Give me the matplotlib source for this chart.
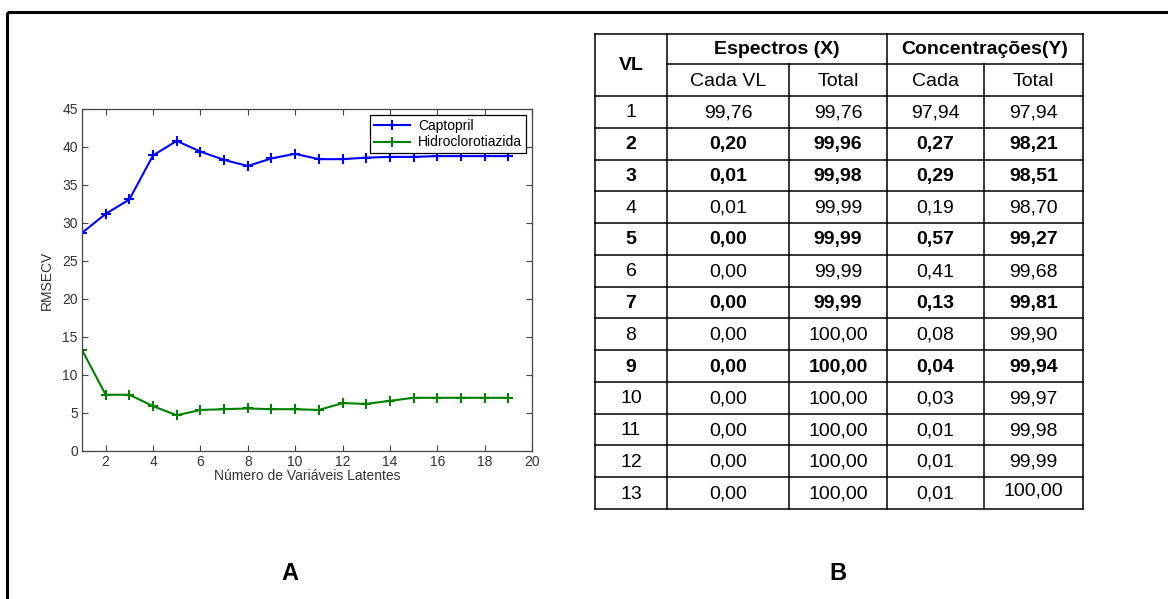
import numpy as np
import matplotlib
matplotlib.use("Agg")
import matplotlib.pyplot as plt

plt.rcParams['font.family'] = ['Liberation Sans', 'DejaVu Sans']

# RMSECV data (panel A)
n_vl = list(range(1, 20))
captopril = [28.7, 31.2, 33.1, 38.9, 40.8, 39.4, 38.3, 37.5, 38.5, 39.1,
             38.4, 38.4, 38.6, 38.7, 38.7, 38.8, 38.8, 38.8, 38.8]
hidro = [13.3, 7.4, 7.4, 5.9, 4.7, 5.4, 5.5, 5.6, 5.5, 5.5,
         5.4, 6.3, 6.2, 6.6, 7.0, 7.0, 7.0, 7.0, 7.0]

# variance table (panel B)
vl = [str(i) for i in range(1, 14)]
cada_x = ["99,76", "0,20", "0,01", "0,01", "0,00", "0,00", "0,00", "0,00",
          "0,00", "0,00", "0,00", "0,00", "0,00"]
total_x = ["99,76", "99,96", "99,98", "99,99", "99,99", "99,99", "99,99",
           "100,00", "100,00", "100,00", "100,00", "100,00", "100,00"]
cada_y = ["97,94", "0,27", "0,29", "0,19", "0,57", "0,41", "0,13", "0,08",
          "0,04", "0,03", "0,01", "0,01", "0,01"]
total_y = ["97,94", "98,21", "98,51", "98,70", "99,27", "99,68", "99,81",
           "99,90", "99,94", "99,97", "99,98", "99,99", "100,00"]
bold_rows = [2, 3, 5, 7, 9]

W, H = 1168, 599
fig = plt.figure(figsize=(W / 100, H / 100), dpi=100)
fig.patch.set_facecolor('white')

# ---- panel A: line plot
ax = fig.add_axes([82 / W, 1 - 451 / H, 450 / W, 342 / H])
ax.plot(n_vl, captopril, color='#0000ff', marker='+', ms=7, mew=1.5, lw=1.5,
        label='Captopril')
ax.plot(n_vl, hidro, color='#008000', marker='+', ms=7, mew=1.5, lw=1.5,
        label='Hidroclorotiazida')
ax.set_xlim(1, 20)
ax.set_ylim(0, 45)
ax.set_xticks(range(2, 21, 2))
ax.set_yticks(range(0, 46, 5))
ax.tick_params(direction='in', top=True, right=True, labelsize=10,
               labelcolor='#333333', length=4, width=0.8, color='#444444',
               pad=3)
for s in ax.spines.values():
    s.set_color('#444444')
    s.set_linewidth(0.9)
ax.set_xlabel('Número de Variáveis Latentes', fontsize=10, color='#333333',
              labelpad=0)
ax.set_ylabel('RMSECV', fontsize=10, color='#333333', labelpad=6)
leg = ax.legend(loc='upper right', fontsize=10, fancybox=False,
                edgecolor='black', framealpha=1, borderaxespad=0.45,
                handlelength=2.6, borderpad=0.25, labelspacing=0.2,
                handletextpad=0.6)
leg.get_frame().set_linewidth(0.9)

# ---- overlay in pixel coordinates: border, table, labels
ov = fig.add_axes([0, 0, 1, 1])
ov.set_xlim(0, W)
ov.set_ylim(H, 0)
ov.axis('off')
ov.patch.set_alpha(0)

# frame of the figure
ov.plot([7, W], [12, 12], color='black', lw=2.2, solid_capstyle='butt')
ov.plot([7, 7], [12, H], color='black', lw=2.2, solid_capstyle='butt')

# table grid
cols = [595, 667, 789, 887, 984, 1083]
top, mid, head = 34, 64, 96
row_h = (509 - head) / 13
rows = [head + i * row_h for i in range(14)]
lw = 1.1
for yy in [top] + rows:
    ov.plot([cols[0], cols[-1]], [yy, yy], color='black', lw=lw)
ov.plot([cols[1], cols[-1]], [mid, mid], color='black', lw=lw)
for i, xx in enumerate(cols):
    y0 = mid if i in (2, 4) else top
    ov.plot([xx, xx], [y0, rows[-1]], color='black', lw=lw)

fs = 14
cx = [(cols[i] + cols[i + 1]) / 2 for i in range(5)]
ov.text(cx[0], (top + head) / 2, 'VL', ha='center', va='center',
        fontsize=fs, fontweight='bold')
ov.text((cols[1] + cols[3]) / 2, (top + mid) / 2 + 1, 'Espectros (X)',
        ha='center', va='center', fontsize=fs, fontweight='bold')
ov.text((cols[3] + cols[5]) / 2, (top + mid) / 2 + 1, 'Concentrações(Y)',
        ha='center', va='center', fontsize=fs, fontweight='bold')
for j, lab in enumerate(['Cada VL', 'Total', 'Cada', 'Total']):
    ov.text(cx[j + 1], (mid + head) / 2 + 1, lab, ha='center', va='center',
            fontsize=fs)

for i in range(13):
    yc = (rows[i] + rows[i + 1]) / 2 + 1
    wt = 'bold' if (i + 1) in bold_rows else 'normal'
    vals = [vl[i], cada_x[i], total_x[i], cada_y[i], total_y[i]]
    for j, v in enumerate(vals):
        dy = -3 if (i == 12 and j == 4) else 0
        ov.text(cx[j], yc + dy, v, ha='center', va='center', fontsize=fs,
                fontweight=wt)

# panel labels
ov.text(290, 573, 'A', ha='center', va='center', fontsize=17,
        fontweight='bold')
ov.text(838, 573, 'B', ha='center', va='center', fontsize=17,
        fontweight='bold')

fig.savefig('out.png', dpi=100)
